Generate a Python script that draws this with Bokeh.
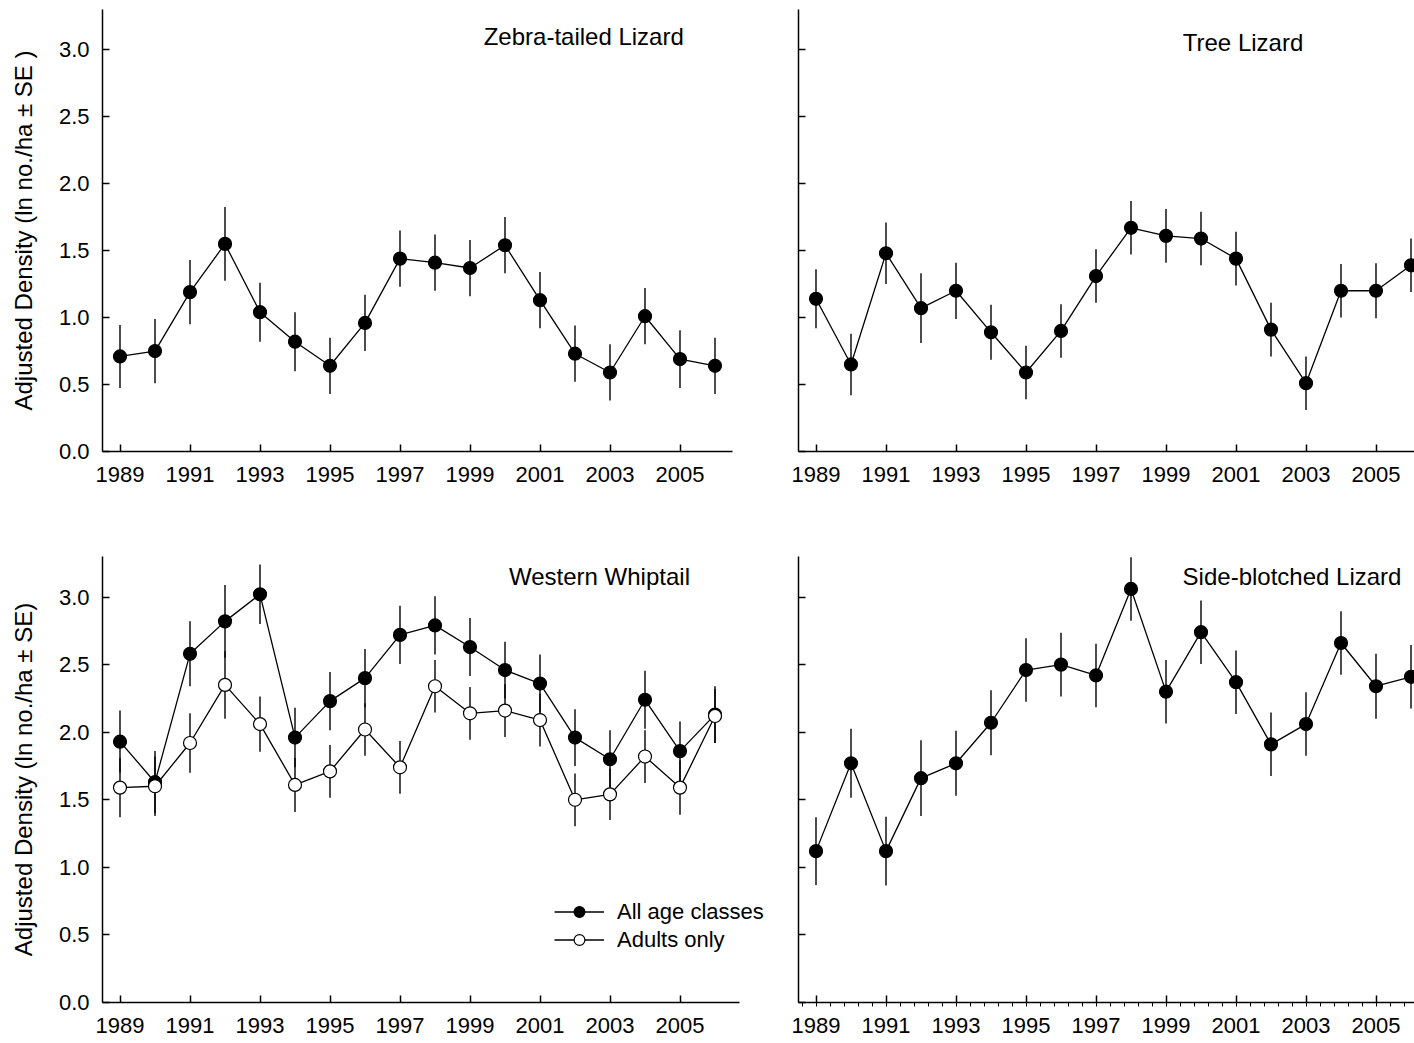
from bokeh.plotting import figure
from bokeh.layouts import column, row
from bokeh.models import (Range1d, FixedTicker, PrintfTickFormatter, CustomJSTickFormatter,
                          Label, Legend, LegendItem)
from bokeh.embed import file_html
from bokeh.resources import INLINE

FONT = "Liberation Sans"

# ---- data -------------------------------------------------------------
years = [1989, 1990, 1991, 1992, 1993, 1994, 1995, 1996, 1997,
         1998, 1999, 2000, 2001, 2002, 2003, 2004, 2005, 2006]
year_ticks = [1989, 1991, 1993, 1995, 1997, 1999, 2001, 2003, 2005]
density_ticks = [0.0, 0.5, 1.0, 1.5, 2.0, 2.5, 3.0]

zebra_mean = [0.71, 0.75, 1.19, 1.55, 1.04, 0.82, 0.64, 0.96, 1.44,
              1.41, 1.37, 1.54, 1.13, 0.73, 0.59, 1.01, 0.69, 0.64]
zebra_se = [0.235, 0.24, 0.24, 0.275, 0.22, 0.22, 0.21, 0.21, 0.21,
            0.21, 0.21, 0.21, 0.21, 0.21, 0.21, 0.21, 0.215, 0.21]

tree_mean = [1.14, 0.65, 1.48, 1.07, 1.20, 0.89, 0.59, 0.90, 1.31,
             1.67, 1.61, 1.59, 1.44, 0.91, 0.51, 1.20, 1.20, 1.39]
tree_se = [0.22, 0.23, 0.23, 0.26, 0.21, 0.205, 0.20, 0.20, 0.20,
           0.20, 0.20, 0.20, 0.20, 0.20, 0.20, 0.20, 0.205, 0.20]

whiptail_all_mean = [1.93, 1.63, 2.58, 2.82, 3.02, 1.96, 2.23, 2.40, 2.72,
                     2.79, 2.63, 2.46, 2.36, 1.96, 1.80, 2.24, 1.86, 2.13]
whiptail_all_se = [0.23, 0.23, 0.24, 0.27, 0.22, 0.22, 0.215, 0.215, 0.215,
                   0.215, 0.215, 0.21, 0.215, 0.21, 0.215, 0.215, 0.22, 0.21]
whiptail_adult_mean = [1.59, 1.60, 1.92, 2.35, 2.06, 1.61, 1.71, 2.02, 1.74,
                       2.34, 2.14, 2.16, 2.09, 1.50, 1.54, 1.82, 1.59, 2.12]
whiptail_adult_se = [0.22, 0.22, 0.22, 0.25, 0.205, 0.20, 0.195, 0.195, 0.195,
                     0.195, 0.195, 0.195, 0.195, 0.195, 0.19, 0.195, 0.20, 0.20]

sideblotched_mean = [1.12, 1.77, 1.12, 1.66, 1.77, 2.07, 2.46, 2.50, 2.42,
                     3.06, 2.30, 2.74, 2.37, 1.91, 2.06, 2.66, 2.34, 2.41]
sideblotched_se = [0.25, 0.255, 0.255, 0.28, 0.24, 0.24, 0.235, 0.235, 0.235,
                   0.235, 0.235, 0.235, 0.235, 0.235, 0.235, 0.235, 0.24, 0.235]

YLABEL_TOP = "Adjusted Density (ln no./ha \u00b1 SE )"
YLABEL_BOTTOM = "Adjusted Density (ln no./ha \u00b1 SE)"

# ---- layout geometry (pixels) ----------------------------------------
LEFT_W, RIGHT_W = 780, 634
TOP_H, BOTTOM_H = 520, 523


def make_panel(width, height, x_end, axis_end, left, right, top, bottom,
               ylabel=None, minor=False):
    p = figure(width=width, height=height, output_backend="svg",
               toolbar_location=None,
               x_range=Range1d(1988.5, x_end), y_range=Range1d(0, 3.3),
               min_border_left=left, min_border_right=right,
               min_border_top=top, min_border_bottom=bottom)
    p.outline_line_color = None
    p.grid.visible = False
    p.background_fill_color = "white"
    p.border_fill_color = "white"

    xa = p.xaxis[0]
    minor_ticks = [round(1988.6 + 0.4 * k, 2) for k in range(45)] if minor else []
    xa.ticker = FixedTicker(ticks=year_ticks, minor_ticks=minor_ticks)
    xa.bounds = (1988.5, axis_end)
    xa.major_tick_in = 7
    xa.major_tick_out = 0
    xa.minor_tick_in = 0
    xa.minor_tick_out = 4 if minor else 0
    xa.major_label_standoff = 11 if minor else 15

    ya = p.yaxis[0]
    ya.ticker = FixedTicker(ticks=density_ticks)
    ya.major_tick_in = 7
    ya.major_tick_out = 0
    ya.minor_tick_in = 0
    ya.minor_tick_out = 0
    if ylabel is None:
        ya.formatter = CustomJSTickFormatter(code="return ''")
        ya.major_label_standoff = 0
    else:
        ya.major_label_standoff = 13
        ya.formatter = PrintfTickFormatter(format="%.1f")
        ya.axis_label = ylabel
        ya.axis_label_text_font = FONT
        ya.axis_label_text_font_size = "24px"
        ya.axis_label_text_font_style = "normal"
        ya.axis_label_text_color = "black"
        ya.axis_label_standoff = 19

    for ax in (xa, ya):
        ax.axis_line_color = "black"
        ax.axis_line_width = 1.5
        ax.major_tick_line_color = "black"
        ax.major_tick_line_width = 1.5
        ax.minor_tick_line_color = "black"
        ax.minor_tick_line_width = 1
        ax.major_label_text_font = FONT
        ax.major_label_text_font_size = "22px"
        ax.major_label_text_color = "black"
    return p


def draw_series(p, means, ses, filled=True):
    lo = [m - s for m, s in zip(means, ses)]
    hi = [m + s for m, s in zip(means, ses)]
    p.segment(x0=years, y0=lo, x1=years, y1=hi, line_color="black", line_width=1.4)
    ln = p.line(years, means, line_color="black", line_width=1.3)
    sc = p.scatter(years, means, marker="circle", size=13,
                   fill_color="black" if filled else "white",
                   line_color="black", line_width=1.2)
    return ln, sc


def title(p, x, y, text):
    p.add_layout(Label(x=x, y=y, text=text, text_align="center",
                       text_baseline="middle", text_font=FONT,
                       text_font_size="24px", text_color="black"))


# Zebra-tailed Lizard
p1 = make_panel(LEFT_W, TOP_H, 2007.5, 2006.5, 102, 13, 9, 69, ylabel=YLABEL_TOP)
draw_series(p1, zebra_mean, zebra_se)
title(p1, 2002.25, 3.10, "Zebra-tailed Lizard")

# Tree Lizard
p2 = make_panel(RIGHT_W, TOP_H, 2006.1, 2006.1, 18, 0, 9, 69)
draw_series(p2, tree_mean, tree_se)
title(p2, 2001.2, 3.05, "Tree Lizard")

# Western Whiptail
p3 = make_panel(LEFT_W, BOTTOM_H, 2007.5, 2006.7, 102, 13, 36, 41, ylabel=YLABEL_BOTTOM)
l_all, s_all = draw_series(p3, whiptail_all_mean, whiptail_all_se, filled=True)
l_ad, s_ad = draw_series(p3, whiptail_adult_mean, whiptail_adult_se, filled=False)
title(p3, 2002.7, 3.15, "Western Whiptail")
legend = Legend(items=[LegendItem(label="All age classes", renderers=[l_all, s_all]),
                       LegendItem(label="Adults only", renderers=[l_ad, s_ad])],
                location=(452, 49), glyph_width=50, glyph_height=27, spacing=1,
                padding=0, margin=0, label_standoff=13,
                label_text_font=FONT, label_text_font_size="22px",
                label_text_color="black", label_text_baseline="middle",
                border_line_color=None, background_fill_alpha=0)
p3.add_layout(legend)

# Side-blotched Lizard
p4 = make_panel(RIGHT_W, BOTTOM_H, 2006.1, 2006.1, 18, 0, 36, 41, minor=True)
draw_series(p4, sideblotched_mean, sideblotched_se)
title(p4, 2002.6, 3.15, "Side-blotched Lizard")

layout = column(row(p1, p2), row(p3, p4))

with open("out.html", "w") as f:
    f.write(file_html(layout, INLINE))
